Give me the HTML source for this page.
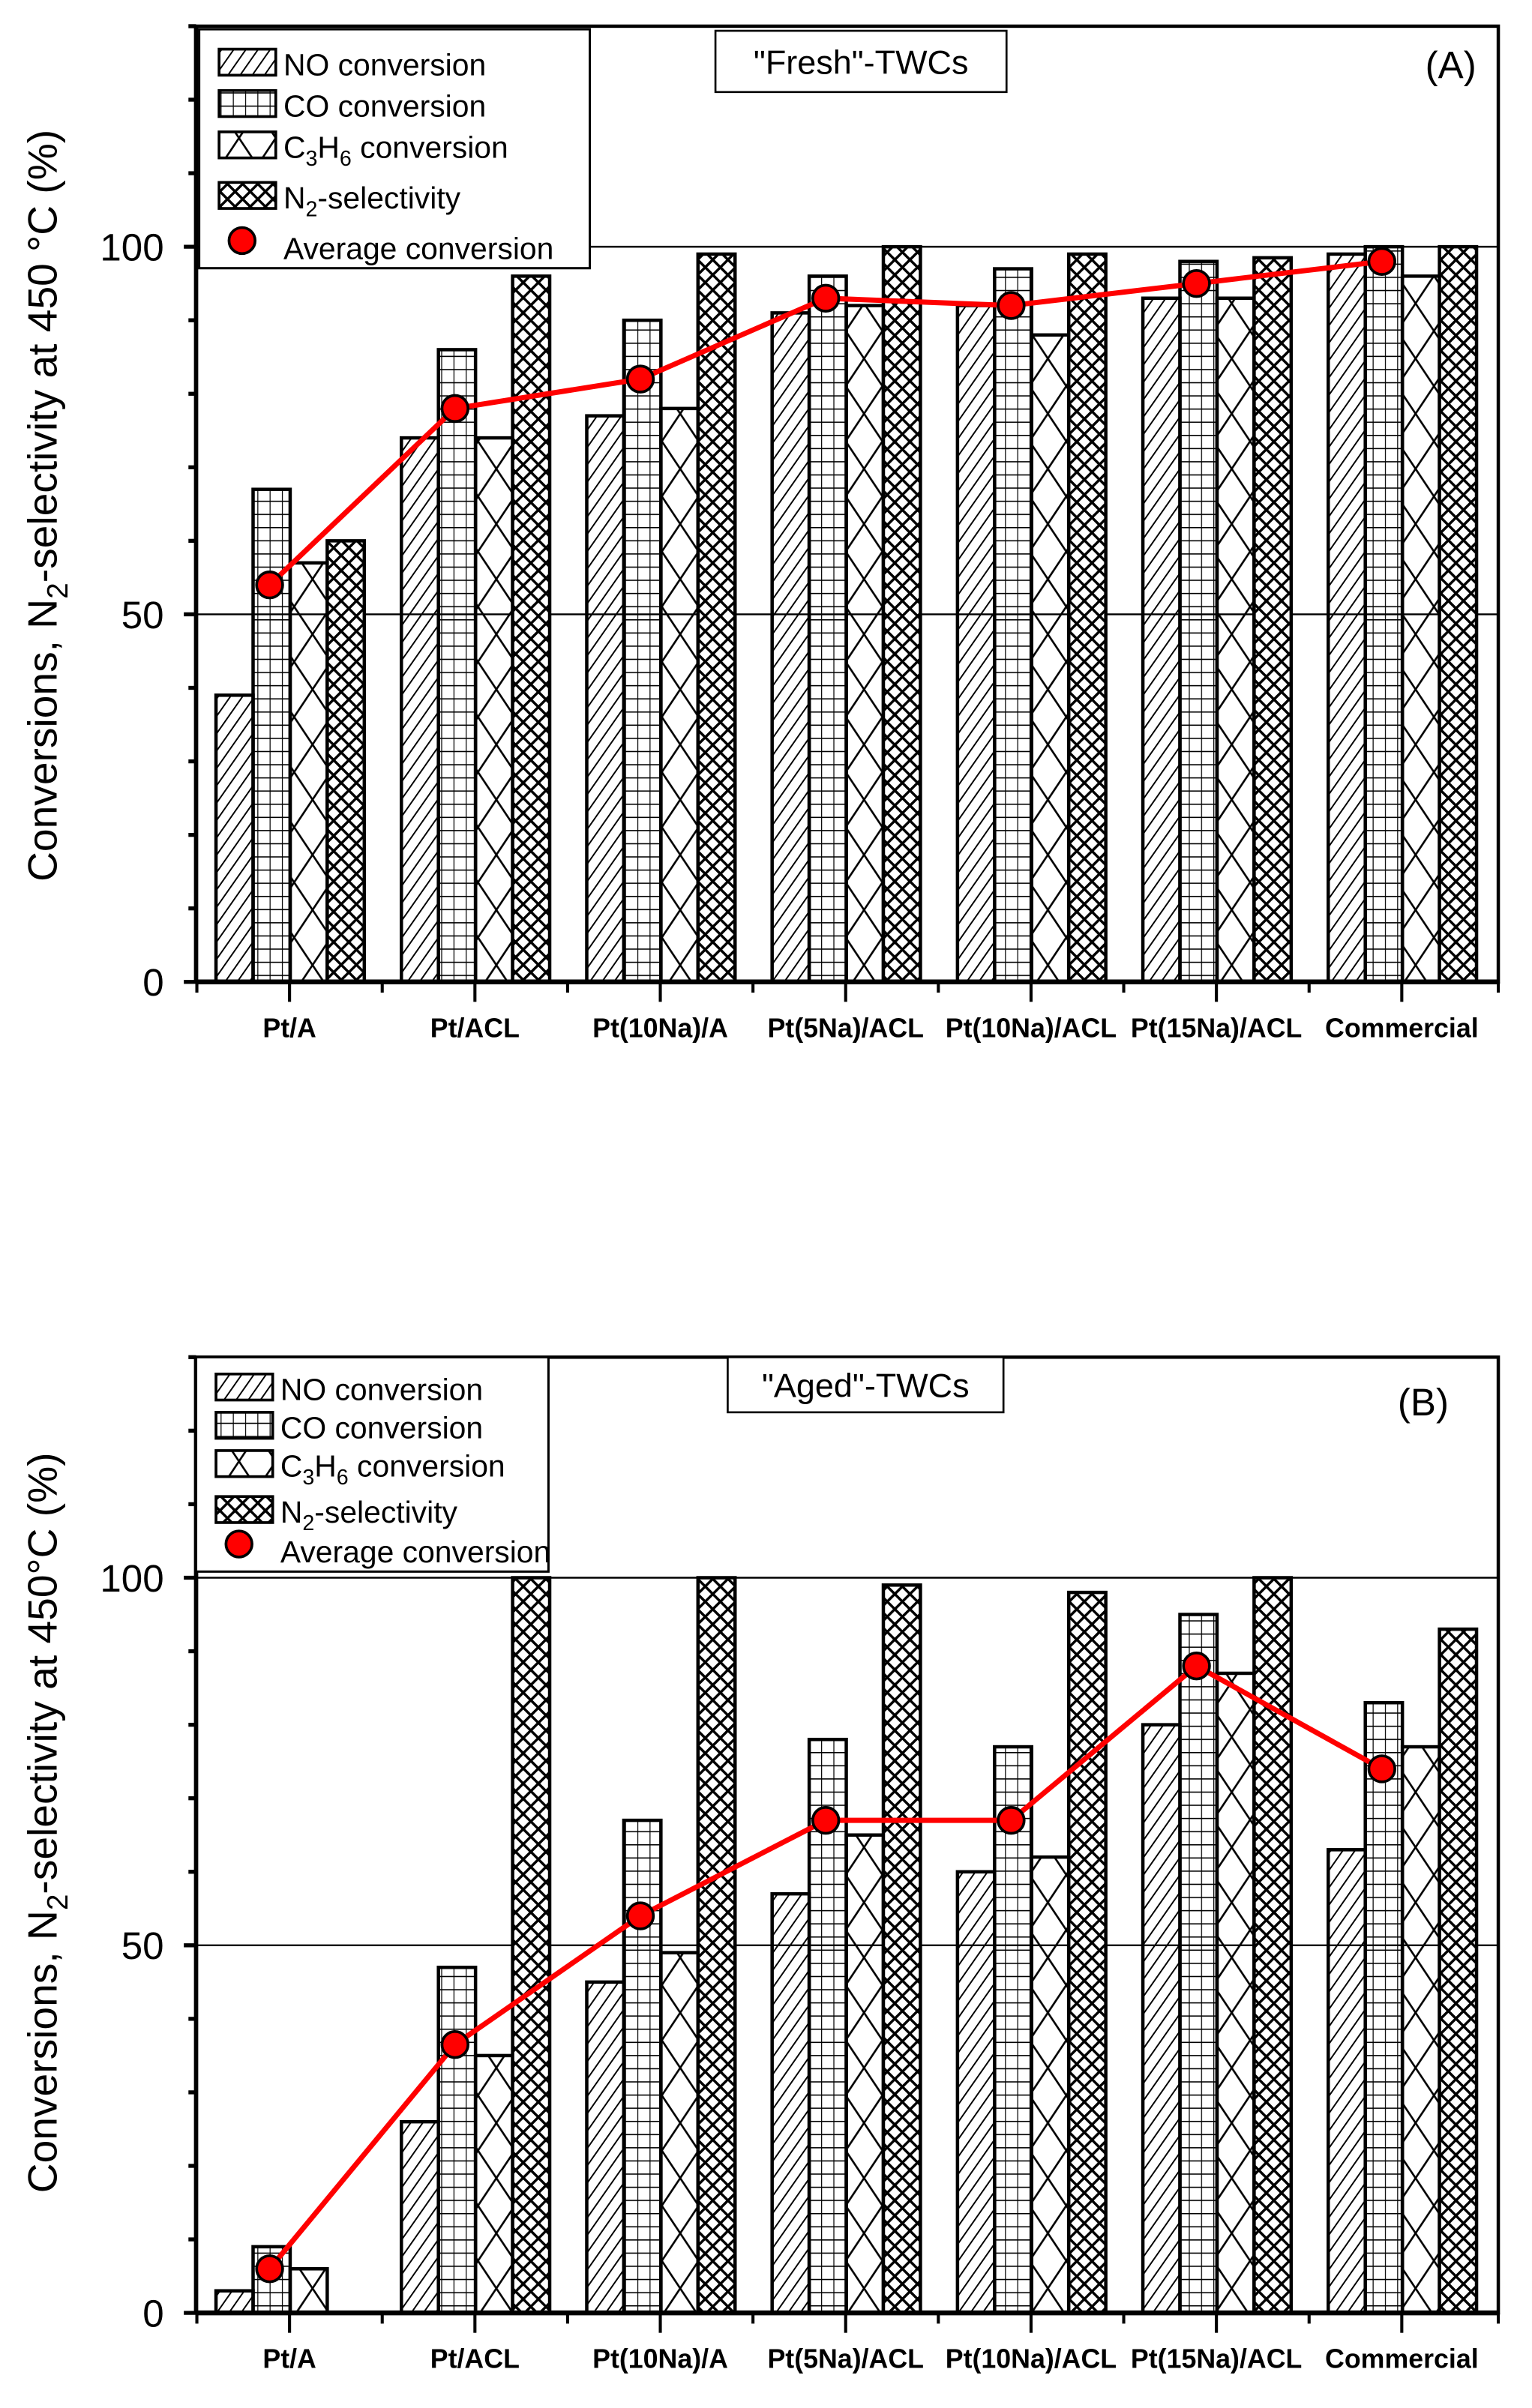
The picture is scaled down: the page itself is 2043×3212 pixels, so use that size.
<!DOCTYPE html>
<html><head><meta charset="utf-8"><style>
html,body{margin:0;padding:0;background:#fff}
svg{display:block}
text{font-family:"Liberation Sans",Arial,sans-serif;fill:#000}
</style></head><body>
<svg width="2043" height="3212" viewBox="0 0 1000 1572" xmlns="http://www.w3.org/2000/svg">
<defs>
<pattern id="pNO" width="6.5" height="6.5" patternUnits="userSpaceOnUse" patternTransform="rotate(35)">
<line x1="0" y1="0" x2="0" y2="6.5" stroke="#000" stroke-width="1.9"/>
</pattern>
<pattern id="pCO" width="8" height="8.6" patternUnits="userSpaceOnUse">
<line x1="0" y1="0" x2="8" y2="0" stroke="#000" stroke-width="1.6"/>
<line x1="0" y1="0" x2="0" y2="8.6" stroke="#000" stroke-width="1.2"/>
</pattern>
<pattern id="pC3" width="24" height="36" patternUnits="userSpaceOnUse">
<line x1="0" y1="0" x2="24" y2="36" stroke="#000" stroke-width="1.3"/>
<line x1="24" y1="0" x2="0" y2="36" stroke="#000" stroke-width="1.3"/>
</pattern>
<pattern id="pN2" width="7" height="7" patternUnits="userSpaceOnUse" patternTransform="rotate(45)">
<rect width="7" height="7" fill="#fff"/>
<line x1="0" y1="0" x2="7" y2="0" stroke="#000" stroke-width="3.4"/>
<line x1="0" y1="0" x2="0" y2="7" stroke="#000" stroke-width="3.4"/>
</pattern>
</defs>
<g id="A"></g>
<g id="B"></g>
<script>
(function(){
var NS="http://www.w3.org/2000/svg";
function el(p,t,a,txt){var e=document.createElementNS(NS,t);for(var k in a)e.setAttribute(k,a[k]);if(txt!=null)e.textContent=txt;p.appendChild(e);return e;}
var cats=["Pt/A","Pt/ACL","Pt(10Na)/A","Pt(5Na)/ACL","Pt(10Na)/ACL","Pt(15Na)/ACL","Commercial"];
var pats=["pNO","pCO","pC3","pN2"];
function chart(g,top,bottom,data,avg,leg,title,tbox,lab,labx,ylab){
 var sc=(bottom-top)/130;
 function Y(v){return bottom-v*sc;}
 var L=128,R=978;
 [50,100].forEach(function(v){el(g,"line",{x1:L,x2:R,y1:Y(v),y2:Y(v),stroke:"#000","stroke-width":1.2});});
 for(var i=0;i<7;i++){var c=189+121*i;
  for(var j=0;j<4;j++){var v=data[i][j];if(v<=0)continue;var x=c-48+24.2*j;
   el(g,"rect",{x:x,y:Y(v),width:24.2,height:v*sc,fill:"url(#"+pats[j]+")",stroke:"#000","stroke-width":2.2});}
 }
 var pts=avg.map(function(v,i){return (176+121*i)+","+Y(v);}).join(" ");
 el(g,"polyline",{points:pts,fill:"none",stroke:"#f00","stroke-width":3.4});
 avg.forEach(function(v,i){el(g,"circle",{cx:176+121*i,cy:Y(v),r:8.5,fill:"#f00",stroke:"#000","stroke-width":1.8});});
 el(g,"rect",{x:L,y:top,width:R-L,height:bottom-top,fill:"none",stroke:"#000","stroke-width":2.2});
 el(g,"line",{x1:L,x2:R,y1:bottom,y2:bottom,stroke:"#000","stroke-width":3.2});
 el(g,"line",{x1:L,x2:L,y1:top,y2:bottom,stroke:"#000","stroke-width":2.8});
 for(var v=0;v<=130;v+=10){var big=(v%50==0);el(g,"line",{x1:L-(big?8:5),x2:L,y1:Y(v),y2:Y(v),stroke:"#000","stroke-width":2.6});}
 [0,50,100].forEach(function(v){el(g,"text",{x:107,y:Y(v)+9,"font-size":25,"text-anchor":"end"},String(v));});
 for(var i=0;i<7;i++){var c=189+121*i;el(g,"line",{x1:c,x2:c,y1:bottom,y2:bottom+13,stroke:"#000","stroke-width":2});
  el(g,"line",{x1:c-60.5,x2:c-60.5,y1:bottom,y2:bottom+7,stroke:"#000","stroke-width":2});
  el(g,"text",{x:c,y:bottom+36,"font-size":17.5,"font-weight":"bold","text-anchor":"middle"},cats[i]);}
 el(g,"line",{x1:R,x2:R,y1:bottom,y2:bottom+7,stroke:"#000","stroke-width":2});
 el(g,"rect",{x:leg[0],y:leg[1],width:leg[2],height:leg[3],fill:"#fff",stroke:"#000","stroke-width":1.5});
 var step=leg[4];
 for(var j=0;j<4;j++){var yy=leg[1]+leg[5]+step*j+(j==3?leg[6]:0);
  el(g,"rect",{x:leg[0]+13,y:yy-9,width:37,height:17,fill:"url(#"+pats[j]+")",stroke:"#000","stroke-width":1.8});
  var t=el(g,"text",{x:leg[0]+55,y:yy+8,"font-size":20});
  if(j==0)t.textContent="NO conversion";
  else if(j==1)t.textContent="CO conversion";
  else if(j==2){t.appendChild(document.createTextNode("C"));el(t,"tspan",{"font-size":14,dy:5},"3");el(t,"tspan",{"font-size":20,dy:-5},"H");el(t,"tspan",{"font-size":14,dy:5},"6");el(t,"tspan",{"font-size":20,dy:-5}," conversion");}
  else {t.appendChild(document.createTextNode("N"));el(t,"tspan",{"font-size":14,dy:5},"2");el(t,"tspan",{"font-size":20,dy:-5},"-selectivity");}
 }
 var ya=leg[1]+leg[3]-14;
 el(g,"circle",{cx:leg[0]+28,cy:ya-4,r:8.5,fill:"#f00",stroke:"#000","stroke-width":1.8});
 el(g,"text",{x:leg[0]+55,y:ya+8,"font-size":20},"Average conversion");
 el(g,"rect",{x:tbox[0],y:tbox[1],width:tbox[2],height:tbox[3],fill:"#fff",stroke:"#000","stroke-width":1.3});
 el(g,"text",{x:tbox[0]+tbox[2]/2,y:tbox[1]+tbox[3]/2+8,"font-size":22,"text-anchor":"middle"},title);
 el(g,"text",{x:labx[0],y:labx[1],"font-size":25,"text-anchor":"middle"},lab);
 var t=el(g,"text",{x:0,y:0,"font-size":27,"text-anchor":"middle",transform:"translate("+ylab[0]+","+ylab[1]+") rotate(-90)"});
 t.appendChild(document.createTextNode("Conversions, N"));el(t,"tspan",{"font-size":19,dy:7},"2");
 el(t,"tspan",{"font-size":27,dy:-7},ylab[2]);
}
chart(document.getElementById("A"),17,641,
 [[39,67,57,60],[74,86,74,96],[77,90,78,99],[91,96,92,100],[92,97,88,99],[93,98,93,98.5],[99,100,96,100]],
 [54,78,82,93,92,95,98],[130,19,255,156,27,22,6],'"Fresh"-TWCs',[467,20,190,40],"(A)",[947,51],[37,330,"-selectivity at 450 \u00B0C (%)"]);
chart(document.getElementById("B"),886,1510,
 [[3,9,6,0],[26,47,35,100],[45,67,49,100],[57,78,65,99],[60,77,62,98],[80,95,87,100],[63,83,77,93]],
 [6,36.5,54,67,67,88,74],[128,886,230,140,25,20,5],'"Aged"-TWCs',[475,886,180,36],"(B)",[929,924],[37,1190,"-selectivity at 450\u00B0C (%)"]);
})();
</script>
</svg>
</body></html>
